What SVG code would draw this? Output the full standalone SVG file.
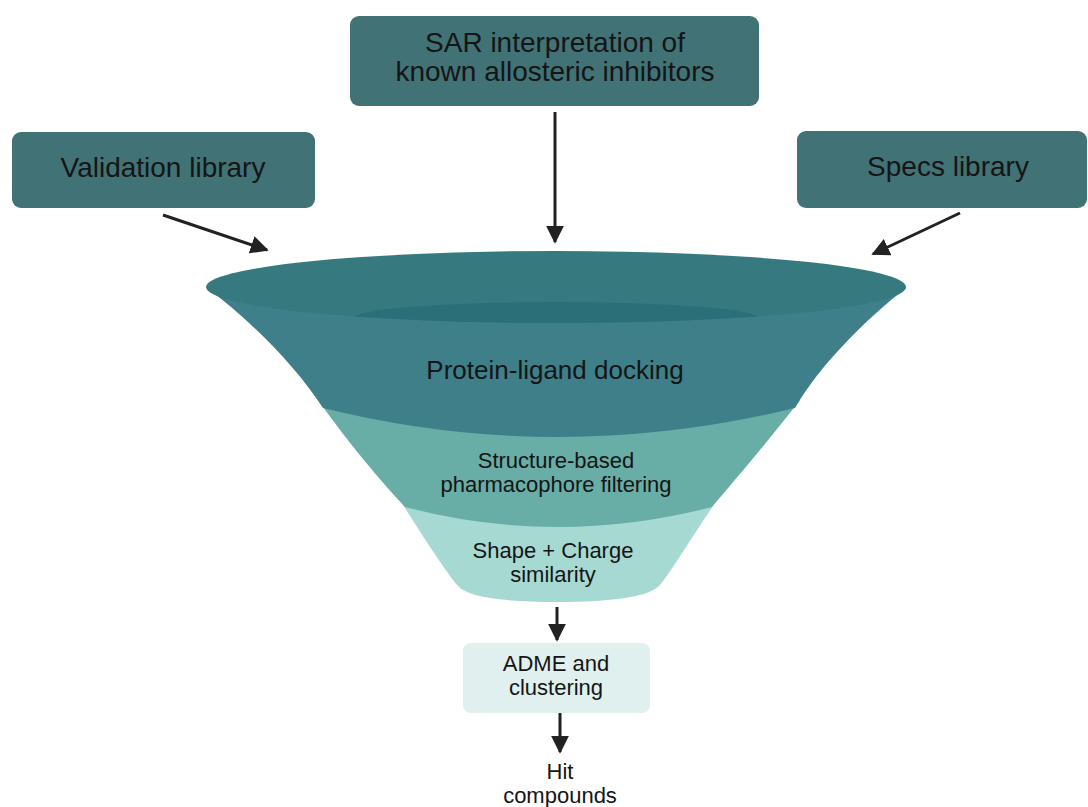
<svg xmlns="http://www.w3.org/2000/svg" width="1088" height="807" viewBox="0 0 1088 807">
<style>
.box{fill:#417275;}
.t{font-family:"Liberation Sans",Arial,sans-serif;fill:#151515;text-anchor:middle;}
.big{font-size:28px;}
.mid{font-size:22px;}
.conn{stroke:#222;stroke-width:3;fill:none;marker-end:url(#ah);}
</style>
<defs>
<marker id="ah" viewBox="0 0 10 10" refX="9" refY="5" markerWidth="6" markerHeight="6" markerUnits="strokeWidth" orient="auto">
<path d="M0,0 L10,5 L0,10 Z" fill="#222"/>
</marker>
<clipPath id="rimclip"><ellipse cx="556" cy="287" rx="350" ry="36"/></clipPath>
</defs>
<rect width="1088" height="807" fill="#fff"/>
<g id="sar"><rect class="box" x="350" y="16" width="409" height="90" rx="9"/>
<text class="t big" x="555" y="52">SAR interpretation of</text>
<text class="t big" x="555" y="81">known allosteric inhibitors</text></g>
<g id="validation"><rect class="box" x="12" y="132" width="303" height="76" rx="9"/>
<text class="t big" x="163" y="177">Validation library</text></g>
<g id="specs"><rect class="box" x="797" y="131" width="290" height="77" rx="9"/>
<text class="t big" x="948" y="176">Specs library</text></g>
<g id="funnel">
<path id="sec3" d="M400 500 C425 540 445 570 457 585 Q470 602 557 602 Q645 602 660 585 C672 570 690 540 717 500 Z" fill="#A6D9D2"/>
<path id="sec2" d="M318 400 C350 445 380 480 405 507 Q557 547 712 507 C735 480 765 445 800 400 Z" fill="#68ADA6"/>
<path id="sec1" d="M207 288 C250 320 295 365 323 408 Q557 466 795 408 C820 365 865 320 906 288 Z" fill="#3E7F89"/>
<ellipse cx="556" cy="287" rx="350" ry="36" fill="#367A80"/>
<ellipse cx="556" cy="318" rx="203" ry="16" fill="#2B7079" clip-path="url(#rimclip)"/>
<text class="t" x="555" y="379" font-size="26">Protein-ligand docking</text>
<text class="t mid" x="556" y="468">Structure-based</text>
<text class="t mid" x="556" y="492">pharmacophore filtering</text>
<text class="t mid" x="553" y="558">Shape + Charge</text>
<text class="t mid" x="553" y="582">similarity</text>
</g>
<g id="adme"><rect x="463" y="643" width="187" height="70" rx="8" fill="#E0F0EE"/>
<text class="t mid" x="556" y="671">ADME and</text>
<text class="t mid" x="556" y="695">clustering</text></g>
<g id="hit"><text class="t mid" x="560" y="779">Hit</text>
<text class="t mid" x="560" y="803">compounds</text></g>
<g id="connectors">
<line class="conn" x1="555" y1="112" x2="555" y2="242"/>
<line class="conn" x1="163" y1="215" x2="267" y2="250"/>
<line class="conn" x1="960" y1="213" x2="873" y2="254"/>
<line class="conn" x1="557" y1="607" x2="557" y2="640"/>
<line class="conn" x1="560" y1="713" x2="560" y2="752"/>
</g>
</svg>
